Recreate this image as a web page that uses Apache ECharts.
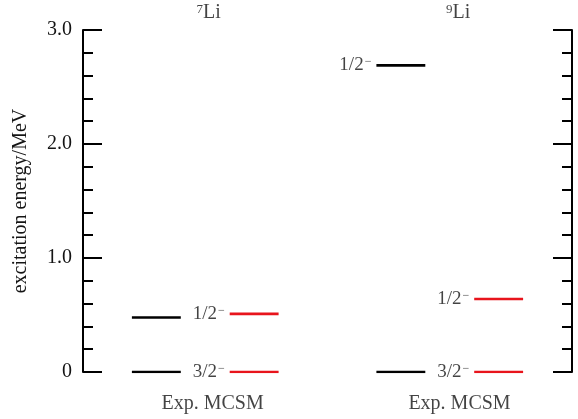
<!DOCTYPE html>
<html>
<head>
<meta charset="utf-8">
<script src="https://cdn.jsdelivr.net/npm/echarts@6/dist/echarts.min.js"></script>
<style>html,body{margin:0;padding:0;background:#fff}#c{width:578px;height:419px}</style>
</head>
<body>
<div id="c"></div>
<script>
// ---- data ----
const massNumbers = ['7', '9'];
const element = 'Li';
const models = ['Exp.', 'MCSM'];
const spins = ['3/2', '1/2'];
const exp7 = [0, 0.478];
const mcsm7 = [0, 0.51];
const exp9 = [0, 2.69];
const mcsm9 = [0, 0.64];
const yTicks = [0, 1.0, 2.0, 3.0];
const yMin = 0, yMax = 3.0;

// ---- build ----
const FONT = 'Liberation Serif';
const BLACK = '#000000', RED = '#e8141c', TXT = '#141414';
// column slots on a hidden 0..10 x scale
const cols = [
  { exp: [1, 2], mcsm: [3, 4], expLv: exp7, mcsmLv: mcsm7 },
  { exp: [6, 7], mcsm: [8, 9], expLv: exp9, mcsmLv: mcsm9 }
];
const series = [];
function levelLine(xr, y, color) {
  series.push({
    type: 'line', xAxisIndex: 0, yAxisIndex: 0, symbol: 'none', silent: true,
    lineStyle: { color: color, width: 2.6 },
    data: [[xr[0], y], [xr[1], y]]
  });
}
cols.forEach(c => {
  c.expLv.forEach(v => levelLine(c.exp, v, BLACK));
  c.mcsmLv.forEach(v => levelLine(c.mcsm, v, RED));
});
const spinRich = {
  n: { fontFamily: FONT, fontSize: 19, color: TXT },
  s: { fontFamily: FONT, fontSize: 12, color: TXT, verticalAlign: 'top', padding: [0, 0, 0, 1] }
};
// spin labels: [x, y, spin text]
const spinLabels = [
  [cols[0].mcsm[0], mcsm7[0], spins[0]],
  [cols[0].mcsm[0], mcsm7[1], spins[1]],
  [cols[1].mcsm[0], mcsm9[0], spins[0]],
  [cols[1].mcsm[0], mcsm9[1], spins[1]],
  [cols[1].exp[0], exp9[1], spins[1]]
];
series.push({
  type: 'scatter', symbolSize: 0, silent: true,
  data: spinLabels,
  label: {
    show: true, position: 'left', distance: 5,
    formatter: p => '{n|' + p.data[2] + '}{s|\u2212}',
    rich: spinRich
  }
});
// nucleus headers
series.push({
  type: 'scatter', symbolSize: 0, silent: true,
  data: [[2.57, yMax, massNumbers[0]], [7.67, yMax, massNumbers[1]]],
  label: {
    show: true, position: 'top', distance: 7,
    formatter: p => '{s|' + p.data[2] + '}{n|' + element + '}',
    rich: {
      n: { fontFamily: FONT, fontSize: 20, color: TXT },
      s: { fontFamily: FONT, fontSize: 13, color: TXT, verticalAlign: 'top' }
    }
  }
});
// model captions
series.push({
  type: 'scatter', symbolSize: 0, silent: true,
  data: [[2.65, yMin, 0], [7.7, yMin, 1]],
  label: {
    show: true, position: 'bottom', distance: 22,
    formatter: p => models.join(' '),
    fontFamily: FONT, fontSize: 20, color: TXT
  }
});

const yCommon = {
  type: 'value', min: yMin, max: yMax, interval: 1,
  axisLine: { show: true, lineStyle: { color: BLACK, width: 2 } },
  axisTick: { show: true, inside: true, length: 19, lineStyle: { color: BLACK, width: 2 } },
  minorTick: { show: true, splitNumber: 5, length: 10, lineStyle: { color: BLACK, width: 2 } },
  splitLine: { show: false }
};
const option = {
  animation: false,
  backgroundColor: '#fff',
  grid: { left: 83, right: 6, top: 30, bottom: 47, containLabel: false, outerBoundsMode: 'none' },
  xAxis: { type: 'value', min: 0, max: 10, show: false },
  yAxis: [
    Object.assign({}, yCommon, {
      position: 'left',
      name: 'excitation energy/MeV', nameLocation: 'middle', nameGap: 52,
      nameTextStyle: { fontFamily: FONT, fontSize: 20, color: TXT },
      axisLabel: {
        show: true, margin: 11, fontFamily: FONT, fontSize: 20, color: TXT,
        formatter: v => (yTicks.indexOf(v) >= 0 ? (v === 0 ? '0' : v.toFixed(1)) : '')
      }
    }),
    Object.assign({}, yCommon, { position: 'right', axisLabel: { show: false } })
  ],
  series: series
};
echarts.init(document.getElementById('c'), null, { renderer: 'canvas' }).setOption(option);
</script>
</body>
</html>
